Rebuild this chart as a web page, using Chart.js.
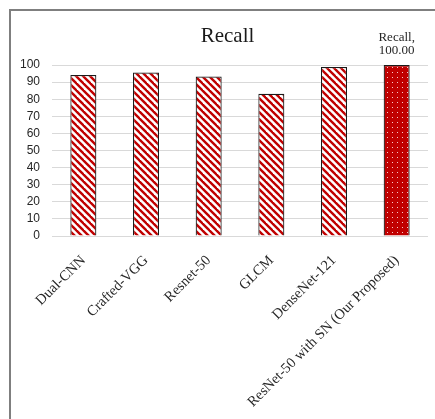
<!DOCTYPE html>
<html>
<head>
<meta charset="utf-8">
<script src="https://cdn.jsdelivr.net/npm/chart.js@4.4.1/dist/chart.umd.min.js"></script>
<style>
body{margin:0;background:#fff;}
#wrap{position:relative;width:435px;height:419px;overflow:hidden;}
#frame{position:absolute;left:9px;top:9px;width:500px;height:500px;border-top:2px solid #7f7f7f;border-left:2px solid #7f7f7f;pointer-events:none;}
canvas{position:absolute;left:0;top:0;}
</style>
</head>
<body>
<div id="wrap">
<canvas id="chart" width="435" height="419"></canvas>
<div id="frame"></div>
</div>
<script>
const chartTitle="Recall";
const models=["Dual-CNN","Crafted-VGG","Resnet-50","GLCM","DenseNet-121","ResNet-50 with SN (Our Proposed)"];
const recall=[94.1,95.6,93.3,83.2,98.8,100];
const yMin=0;
const yMax=100;
const yStep=10;

const RED="#c00000";

// diagonal red/white hatch for the compared models
function stripePattern(){
const s=7;
const c=document.createElement("canvas");
c.width=s;c.height=s;
const g=c.getContext("2d");
g.fillStyle="#fff";
g.fillRect(0,0,s,s);
g.strokeStyle=RED;
g.lineWidth=2.4;
for(const k of [-s,0,s]){
g.beginPath();
g.moveTo(k-1,-1);
g.lineTo(k+s+1,s+1);
g.stroke();
}
return g.createPattern(c,"repeat");
}

// dark red with small light dots for the proposed model
function dotPattern(){
const s=5;
const c=document.createElement("canvas");
c.width=s;c.height=s;
const g=c.getContext("2d");
g.fillStyle=RED;
g.fillRect(0,0,s,s);
g.fillStyle="#f6caca";
g.fillRect(2,2,1,1);
return g.createPattern(c,"repeat");
}

const stripes=stripePattern();
const dots=dotPattern();

const fills=models.map((m,i)=>i===models.length-1?dots:stripes);

// title centred on the framed area, plus the value label over the last bar
const annotations={
id:"annotations",
afterDatasetsDraw(chart){
const ctx=chart.ctx;
ctx.save();
ctx.textAlign="center";
ctx.textBaseline="alphabetic";

ctx.font="21px 'Liberation Serif'";
ctx.fillStyle="#1a1a1a";
ctx.fillText(chartTitle,chart.width/2+10,42);

const meta=chart.getDatasetMeta(0);
const i=recall.length-1;
const bar=meta.data[i];
ctx.font="13px 'Liberation Serif'";
ctx.fillStyle="#262626";
ctx.fillText("Recall,",bar.x,bar.y-24);
ctx.fillText(recall[i].toFixed(2),bar.x,bar.y-11);
ctx.restore();
}
};

new Chart(document.getElementById("chart"),{
type:"bar",
data:{
labels:models,
datasets:[{
label:"Recall",
data:recall,
backgroundColor:fills,
borderColor:"#1a1a1a",
borderWidth:1.2,
categoryPercentage:0.5,
barPercentage:0.83
}]
},
options:{
responsive:false,
animation:false,
layout:{padding:{left:8,right:7,top:65,bottom:12}},
plugins:{
legend:{display:false},
tooltip:{enabled:false},
title:{display:false}
},
scales:{
x:{
grid:{display:false},
border:{display:false},
ticks:{
autoSkip:false,
minRotation:45,
maxRotation:45,
padding:8,
color:"#262626",
font:{family:"'Liberation Serif'",size:14.5}
},
// rotated labels may hang past the y axis; don't shrink the plot for them
afterFit(scale){
scale.paddingLeft=0;
scale.paddingRight=0;
}
},
y:{
min:yMin,
max:yMax,
grid:{color:"#d9d9d9",drawTicks:false,lineWidth:1},
border:{display:false},
ticks:{
stepSize:yStep,
autoSkip:false,
padding:12,
color:"#262626",
font:{family:"'Liberation Sans'",size:12}
}
}
}
},
plugins:[annotations]
});
</script>
</body>
</html>
